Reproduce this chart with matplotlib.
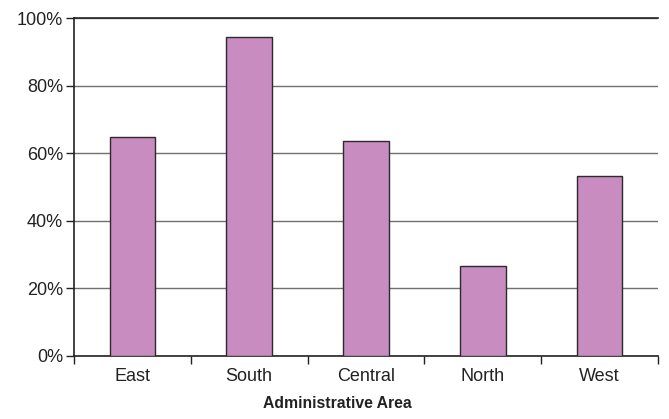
import matplotlib.pyplot as plt
from matplotlib.ticker import PercentFormatter, FixedLocator
import numpy as np

plt.rcParams['font.family'] = ['Liberation Sans', 'DejaVu Sans']

# Datos
areas = ["East", "South", "Central", "North", "West"]
shares = [64.9, 94.5, 63.7, 26.7, 53.3]

fig = plt.figure(figsize=(6.69, 4.19), dpi=100)
ax = fig.add_axes([0.1106, 0.1504, 0.873, 0.8066])

x = np.arange(len(areas))
ax.bar(x, shares, width=0.39, color="#c88cc0", edgecolor="#2a2a2a", linewidth=1.0, zorder=3)

ax.set_xlim(-0.5, len(areas) - 0.5)
ax.set_ylim(0, 100)
ax.set_yticks(np.arange(0, 101, 20))
ax.yaxis.set_major_formatter(PercentFormatter(decimals=0))
ax.yaxis.grid(True, color="#707070", linewidth=1.0, zorder=0)

ax.set_xticks(x)
ax.set_xticklabels(areas)
ax.xaxis.set_major_locator(FixedLocator(x))
ax.tick_params(axis="x", which="major", length=0, pad=9)
ax.set_xticks(np.arange(-0.5, len(areas)), minor=True)
ax.tick_params(axis="x", which="minor", length=6, width=1.0, direction="out", color="#222222")
ax.tick_params(axis="y", length=6, width=1.0, direction="out", color="#222222", pad=2)
ax.tick_params(labelsize=13, labelcolor="#222222")

ax.spines["right"].set_visible(False)
for side in ["left", "bottom", "top"]:
    ax.spines[side].set_color("#222222")
    ax.spines[side].set_linewidth(1.2)

fig.text(0.505, 0.02, "Administrative Area", fontsize=11.3, fontweight="bold",
         color="#222222", ha="center", va="bottom")

fig.savefig("out.png", dpi=100)
